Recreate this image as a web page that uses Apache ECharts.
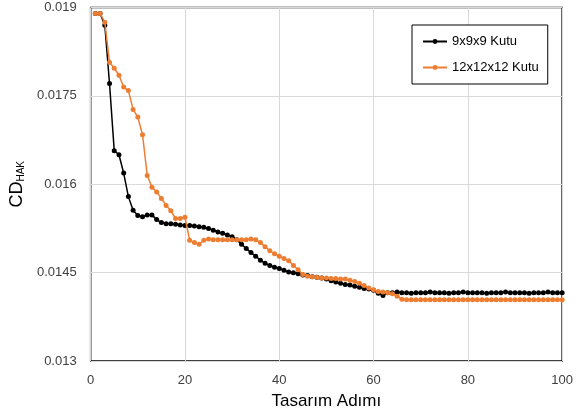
<!DOCTYPE html>
<html><head><meta charset="utf-8">
<script src="https://cdn.jsdelivr.net/npm/echarts@6/dist/echarts.min.js"></script>
<style>html,body{margin:0;padding:0;background:#fff}#c{width:576px;height:420px}</style>
</head><body><div id="c"></div>
<script>
var steps = [];
for (var i = 1; i <= 100; i++) steps.push(i);
var seriesNames = ['9x9x9 Kutu', '12x12x12 Kutu'];
var xTicks = [0, 20, 40, 60, 80, 100];
var yTicks = [0.013, 0.0145, 0.016, 0.0175, 0.019];
var black = [
0.01890,0.01890,0.01870,0.01771,0.01657,0.01650,0.01619,0.01579,0.01556,0.01547,
0.01545,0.01548,0.01548,0.01540,0.01535,0.01533,0.01533,0.01532,0.01531,0.01530,
0.01530,0.01529,0.01528,0.01527,0.01525,0.01522,0.01519,0.01517,0.01514,0.01511,
0.01506,0.01498,0.01491,0.01484,0.01478,0.01471,0.01466,0.01462,0.01459,0.01457,
0.01454,0.01451,0.01450,0.01448,0.01446,0.01445,0.01443,0.01442,0.01441,0.01439,
0.01436,0.01434,0.01432,0.01430,0.01429,0.01427,0.01425,0.01423,0.01422,0.01420,
0.01415,0.01411,0.01416,0.01416,0.01417,0.01416,0.01416,0.01415,0.01416,0.01416,
0.01416,0.01417,0.01416,0.01416,0.01416,0.01415,0.01416,0.01416,0.01417,0.01416,
0.01416,0.01416,0.01416,0.01415,0.01416,0.01416,0.01416,0.01417,0.01416,0.01416,
0.01416,0.01416,0.01415,0.01416,0.01416,0.01416,0.01417,0.01416,0.01416,0.01416
];
var orange = [
0.01890,0.01890,0.01875,0.01807,0.01797,0.01785,0.01765,0.01759,0.01727,0.01714,
0.01684,0.01615,0.01595,0.01587,0.01576,0.01564,0.01555,0.01542,0.01542,0.01544,
0.01505,0.01501,0.01498,0.01505,0.01507,0.01506,0.01506,0.01506,0.01506,0.01506,
0.01506,0.01506,0.01506,0.01507,0.01506,0.01501,0.01494,0.01487,0.01482,0.01478,
0.01474,0.01470,0.01462,0.01455,0.01447,0.01444,0.01443,0.01442,0.01441,0.01441,
0.01440,0.01440,0.01439,0.01439,0.01437,0.01435,0.01432,0.01428,0.01424,0.01421,
0.01418,0.01417,0.01416,0.01414,0.01410,0.01405,0.01404,0.01404,0.01404,0.01404,
0.01404,0.01404,0.01404,0.01404,0.01404,0.01404,0.01404,0.01404,0.01404,0.01404,
0.01404,0.01404,0.01404,0.01404,0.01404,0.01404,0.01404,0.01404,0.01404,0.01404,
0.01404,0.01404,0.01404,0.01404,0.01404,0.01404,0.01404,0.01404,0.01404,0.01404
];
function pairs(vals){ return steps.map(function(s,i){ return [s, vals[i]]; }); }
var font = 'Liberation Sans';
var chart = echarts.init(document.getElementById('c'), null, {renderer:'canvas'});
chart.setOption({
  animation:false,
  backgroundColor:'#fff',
  grid:{left:88,right:12,top:7.5,bottom:59,show:true,borderColor:'#000',borderWidth:1.5,backgroundColor:'transparent'},
  legend:{
    orient:'vertical', left:412, top:25,
    padding:[10,9,10,10], itemGap:13, itemWidth:24, itemHeight:6,
    borderColor:'#000', borderWidth:1, backgroundColor:'#fff',
    textStyle:{fontFamily:font,fontSize:13,color:'#000'},
    data:seriesNames
  },
  xAxis:{
    type:'value', min:xTicks[0], max:xTicks[xTicks.length-1], interval:20,
    name:'Tasarım Adımı', nameLocation:'middle', nameGap:32,
    nameTextStyle:{fontFamily:font,fontSize:17,color:'#000'},
    axisLine:{show:false}, axisTick:{show:false},
    axisLabel:{fontFamily:font,fontSize:13,color:'#404040',margin:13},
    splitLine:{show:true,lineStyle:{color:'#d9d9d9',width:1}}
  },
  yAxis:{
    type:'value', min:yTicks[0], max:yTicks[yTicks.length-1], interval:0.0015,
    name:'{a|CD}{b|HAK}', nameLocation:'middle', nameGap:55,
    nameTextStyle:{rich:{a:{fontFamily:font,fontSize:18,color:'#000'},b:{fontFamily:font,fontSize:10,color:'#000',verticalAlign:'bottom',padding:[8,0,0,0]}}},
    axisLine:{show:false}, axisTick:{show:false},
    axisLabel:{fontFamily:font,fontSize:13,color:'#404040',margin:14,formatter:function(v){return String(+v.toFixed(4));}},
    splitLine:{show:true,lineStyle:{color:'#d9d9d9',width:1}}
  },
  series:[
    {name:seriesNames[0],type:'line',data:pairs(black),symbol:'circle',symbolSize:5,
     lineStyle:{color:'#000',width:1.5},itemStyle:{color:'#000'},z:2},
    {name:seriesNames[1],type:'line',data:pairs(orange),symbol:'circle',symbolSize:5,
     lineStyle:{color:'#ED7D31',width:1.5},itemStyle:{color:'#ED7D31'},z:3}
  ]
});
</script></body></html>
